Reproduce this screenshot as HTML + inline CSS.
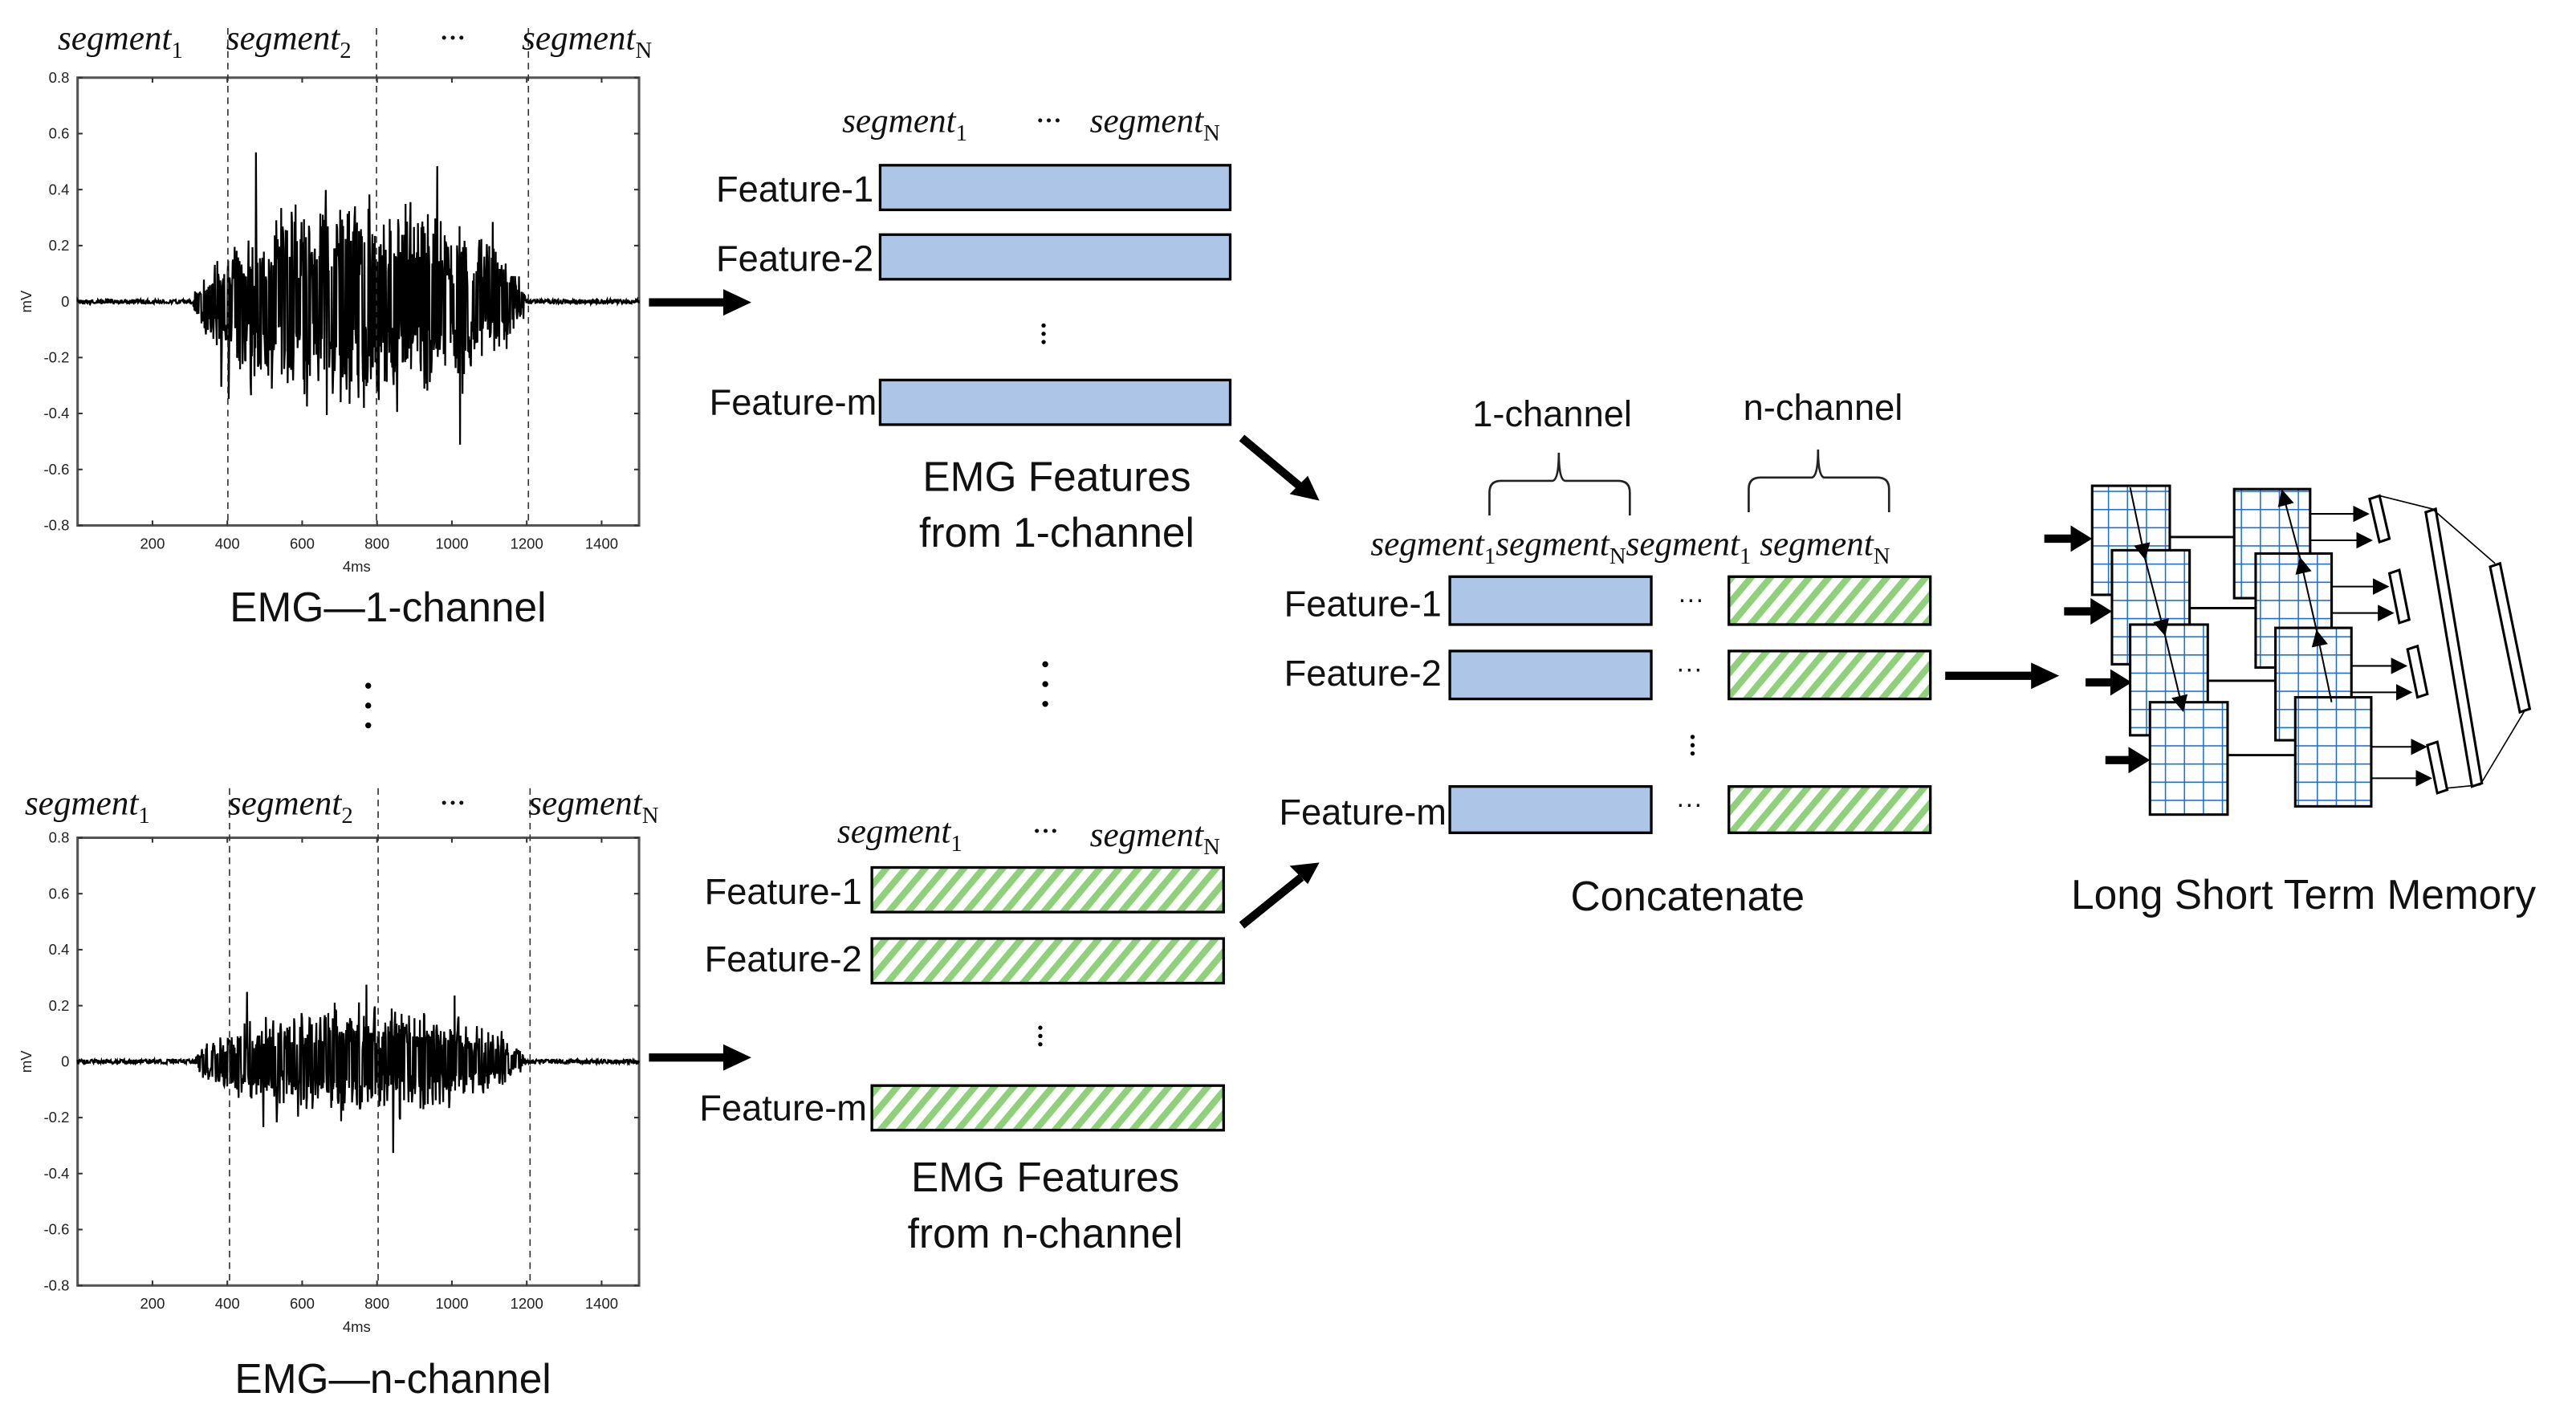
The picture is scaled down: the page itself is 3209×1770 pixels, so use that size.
<!DOCTYPE html>
<html><head><meta charset="utf-8"><style>
html,body{margin:0;padding:0;background:#fff;width:3209px;height:1770px;overflow:hidden}
svg{display:block}
.lab{font-family:"Liberation Sans","Noto Sans CJK KR",sans-serif;font-size:22px;fill:#111}
.big{font-family:"Liberation Sans","Noto Sans CJK KR",sans-serif;font-size:25px;fill:#111}
.seg{font-family:"Liberation Serif",serif;font-style:italic;font-size:21px;fill:#111}
.sub{font-size:14px;font-style:normal}
.tk{font-family:"Liberation Sans",sans-serif;font-size:9px;fill:#222}
</style></head><body>
<svg id="s" width="3209" height="1770" viewBox="0 0 1560 860" preserveAspectRatio="none" xmlns="http://www.w3.org/2000/svg">
<defs>
<pattern id="hatch" width="9" height="9" patternUnits="userSpaceOnUse" patternTransform="rotate(40)">
<rect width="9" height="9" fill="#fff"/><rect width="4" height="9" fill="#8fd07a"/></pattern>
<pattern id="grid" width="11.5" height="11" patternUnits="userSpaceOnUse">
<rect width="11.5" height="11" fill="#fff"/><path d="M0 0H11.5M0 0V11" stroke="#1a6fd0" stroke-width="1.5"/></pattern>
<marker id="ahs" viewBox="0 0 10 10" refX="9" refY="5" markerWidth="10" markerHeight="10" markerUnits="userSpaceOnUse" orient="auto"><path d="M0 0L10 5L0 10z" fill="#000"/></marker>
</defs>
<g id="plots"></g>

<text class="seg" x="35" y="30">segment<tspan class="sub" dy="5">1</tspan></text>
<text class="seg" x="137" y="30">segment<tspan class="sub" dy="5">2</tspan></text>
<text class="seg" x="266" y="30">···</text>
<text class="seg" x="316" y="30">segment<tspan class="sub" dy="5">N</tspan></text>
<text class="big" x="235" y="376" text-anchor="middle">EMG—1-channel</text>
<text class="seg" x="15" y="493">segment<tspan class="sub" dy="5">1</tspan></text>
<text class="seg" x="138" y="493">segment<tspan class="sub" dy="5">2</tspan></text>
<text class="seg" x="266" y="493">···</text>
<text class="seg" x="320" y="493">segment<tspan class="sub" dy="5">N</tspan></text>
<text class="big" x="238" y="843" text-anchor="middle">EMG—n-channel</text>
<g fill="#000"><circle cx="223" cy="415" r="1.8"/><circle cx="223" cy="427" r="1.8"/><circle cx="223" cy="439" r="1.8"/>
<circle cx="633" cy="402" r="1.8"/><circle cx="633" cy="414" r="1.8"/><circle cx="633" cy="426" r="1.8"/></g>

<g stroke="#000" stroke-width="5">
<line x1="393" y1="183" x2="440" y2="183"/><line x1="393" y1="640" x2="440" y2="640"/>
<line x1="752" y1="265" x2="788" y2="295"/><line x1="752" y1="560" x2="788" y2="531"/>
<line x1="1178" y1="409" x2="1232" y2="409"/>
</g>
<g fill="#000">
<path d="M438 175L455 183L438 191z"/><path d="M438 632L455 640L438 648z"/>
<path d="M799 303L781 299L792 288z"/><path d="M799 522L792 535L781 524z"/>
<path d="M1230 401L1247 409L1230 417z"/>
</g>

<text class="seg" x="510" y="80">segment<tspan class="sub" dy="5">1</tspan></text>
<text class="seg" x="627" y="80">···</text>
<text class="seg" x="660" y="80">segment<tspan class="sub" dy="5">N</tspan></text>
<g fill="#adc6e8" stroke="#000" stroke-width="1.6">
<rect x="533" y="100" width="212" height="27"/><rect x="533" y="142" width="212" height="27"/><rect x="533" y="230" width="212" height="27"/></g>
<text class="lab" x="529" y="122" text-anchor="end">Feature-1</text>
<text class="lab" x="529" y="164" text-anchor="end">Feature-2</text>
<text class="lab" x="531" y="251" text-anchor="end">Feature-m</text>
<g fill="#000"><circle cx="632" cy="197" r="1.3"/><circle cx="632" cy="202" r="1.3"/><circle cx="632" cy="207" r="1.3"/></g>
<text class="big" x="640" y="297" text-anchor="middle">EMG Features</text>
<text class="big" x="640" y="331" text-anchor="middle">from 1-channel</text>

<text class="seg" x="507" y="510">segment<tspan class="sub" dy="5">1</tspan></text>
<text class="seg" x="625" y="510">···</text>
<text class="seg" x="660" y="512">segment<tspan class="sub" dy="5">N</tspan></text>
<g fill="url(#hatch)" stroke="#000" stroke-width="1.6">
<rect x="528" y="525" width="213" height="27"/><rect x="528" y="568" width="213" height="27"/><rect x="528" y="657" width="213" height="27"/></g>
<text class="lab" x="522" y="547" text-anchor="end">Feature-1</text>
<text class="lab" x="522" y="588" text-anchor="end">Feature-2</text>
<text class="lab" x="525" y="678" text-anchor="end">Feature-m</text>
<g fill="#000"><circle cx="630" cy="622" r="1.3"/><circle cx="630" cy="627" r="1.3"/><circle cx="630" cy="632" r="1.3"/></g>
<text class="big" x="633" y="721" text-anchor="middle">EMG Features</text>
<text class="big" x="633" y="755" text-anchor="middle">from n-channel</text>

<text class="lab" x="940" y="258" text-anchor="middle">1-channel</text>
<text class="lab" x="1104" y="254" text-anchor="middle">n-channel</text>
<g fill="none" stroke="#222" stroke-width="1.3">
<path d="M902 312V298Q902 291 909 291H940Q944 291 944 274Q944 291 948 291H980Q987 291 987 298V312"/>
<path d="M1059 310V296Q1059 289 1066 289H1097Q1101 289 1101 272Q1101 289 1105 289H1137Q1144 289 1144 296V310"/>
</g>
<text class="seg" x="830" y="336">segment<tspan class="sub" dy="5">1</tspan><tspan dy="-5">segment</tspan><tspan class="sub" dy="5">N</tspan><tspan dy="-5">segment</tspan><tspan class="sub" dy="5">1</tspan><tspan dy="-5"> segment</tspan><tspan class="sub" dy="5">N</tspan></text>
<g fill="#adc6e8" stroke="#000" stroke-width="1.6">
<rect x="878" y="349" width="122" height="29"/><rect x="878" y="394" width="122" height="29"/><rect x="878" y="476" width="122" height="28"/></g>
<g fill="url(#hatch)" stroke="#000" stroke-width="1.6">
<rect x="1047" y="349" width="122" height="29"/><rect x="1047" y="394" width="122" height="29"/><rect x="1047" y="476" width="122" height="28"/></g>
<text class="lab" x="873" y="373" text-anchor="end">Feature-1</text>
<text class="lab" x="873" y="415" text-anchor="end">Feature-2</text>
<text class="lab" x="876" y="499" text-anchor="end">Feature-m</text>
<g font-family="Liberation Sans" font-size="16" fill="#111" text-anchor="middle">
<text x="1024" y="368">···</text><text x="1023" y="410">···</text><text x="1023" y="492">···</text></g>
<g fill="#000"><circle cx="1025" cy="446" r="1.3"/><circle cx="1025" cy="451" r="1.3"/><circle cx="1025" cy="456" r="1.3"/></g>
<text class="big" x="1022" y="551" text-anchor="middle">Concatenate</text>

<g stroke="#000" stroke-width="5">
<line x1="1238" y1="326" x2="1255" y2="326"/><line x1="1250" y1="370" x2="1267" y2="370"/>
<line x1="1263" y1="413" x2="1280" y2="413"/><line x1="1275" y1="460" x2="1290" y2="460"/></g>
<g fill="#000">
<path d="M1254 318L1267 326L1254 334z"/><path d="M1266 362L1279 370L1266 378z"/>
<path d="M1278 405L1291 413L1278 421z"/><path d="M1289 452L1302 460L1289 468z"/></g>
<g stroke="#000" stroke-width="1.4">
<line x1="1313" y1="325" x2="1353" y2="325"/><line x1="1326" y1="368" x2="1366" y2="368"/>
<line x1="1337" y1="412" x2="1378" y2="412"/><line x1="1349" y1="457" x2="1390" y2="457"/></g>
<g fill="url(#grid)" stroke="#000" stroke-width="1.5">
<rect x="1267" y="294" width="47" height="66"/><rect x="1279" y="333" width="47" height="69"/>
<rect x="1290" y="378" width="47" height="67"/><rect x="1302" y="425" width="47" height="68"/>
<rect x="1353" y="296" width="46" height="66"/><rect x="1366" y="335" width="46" height="69"/>
<rect x="1378" y="380" width="46" height="68"/><rect x="1390" y="422" width="46" height="66"/></g>
<g stroke="#000" stroke-width="1" marker-end="url(#ahs)">
<line x1="1290" y1="295" x2="1299" y2="338"/><line x1="1299" y1="338" x2="1311" y2="384"/><line x1="1311" y1="384" x2="1322" y2="430"/>
<line x1="1412" y1="425" x2="1403" y2="382"/><line x1="1403" y1="382" x2="1393" y2="338"/><line x1="1393" y1="338" x2="1382" y2="297"/>
<line x1="1399" y1="311" x2="1434" y2="311"/><line x1="1399" y1="327" x2="1436" y2="327"/>
<line x1="1412" y1="355" x2="1446" y2="355"/><line x1="1412" y1="371" x2="1449" y2="371"/>
<line x1="1424" y1="403" x2="1457" y2="403"/><line x1="1424" y1="419" x2="1460" y2="419"/>
<line x1="1436" y1="452" x2="1469" y2="452"/><line x1="1436" y1="471" x2="1472" y2="471"/></g>
<g fill="#fff" stroke="#000" stroke-width="1.5">
<path d="M1435 302L1441 300L1447 326L1441 328z"/>
<path d="M1447 347L1453 345L1459 375L1453 377z"/>
<path d="M1458 393L1464 391L1470 420L1464 422z"/>
<path d="M1470 451L1476 449L1482 478L1476 480z"/>
<path d="M1469 310L1475 308L1503 474L1497 476z"/>
<path d="M1508 343L1514 341L1532 429L1526 431z"/></g>
<g stroke="#000" stroke-width="0.8" fill="none">
<path d="M1441 300L1473 308L1511 341M1529 430L1502 475L1482 477"/></g>
<text class="big" x="1395" y="550" text-anchor="middle">Long Short Term Memory</text>
</svg>
<script>
(function(){
var NS="http://www.w3.org/2000/svg",g=document.getElementById("plots");
function el(n,a,t){var e=document.createElementNS(NS,n);for(var k in a)e.setAttribute(k,a[k]);if(t)e.textContent=t;g.appendChild(e);return e;}
var seed=7;function r(){seed=(seed*16807)%2147483647;return seed/2147483647;}
function plot(top,amp,dash){
 var L=47,R=387,T=top,B=top+271,Z=(T+B)/2;
 el("rect",{x:L,y:T,width:R-L,height:B-T,fill:"#fff",stroke:"#555","stroke-width":1.5});
 for(var i=0;i<=8;i++){var y=T+i*(B-T)/8;var v=(0.8-i*0.2).toFixed(1);if(v=="0.0"||v=="-0.0")v="0";
  el("text",{x:L-5,y:y+3,"text-anchor":"end","class":"tk"},v);
  el("line",{x1:L,y1:y,x2:L+3,y2:y,stroke:"#333"});el("line",{x1:R,y1:y,x2:R-3,y2:y,stroke:"#333"});}
 for(var x=200;x<=1400;x+=200){var px=L+(R-L)*x/1500;el("text",{x:px,y:B+14,"text-anchor":"middle","class":"tk"},x);
  el("line",{x1:px,y1:B,x2:px,y2:B-3,stroke:"#333"});el("line",{x1:px,y1:T,x2:px,y2:T+3,stroke:"#333"});}
 el("text",{x:216,y:B+28,"text-anchor":"middle","class":"tk"},"4ms");
 el("text",{x:15,y:Z+4,"text-anchor":"middle","class":"tk",transform:"rotate(-90 15 "+(Z)+")"},"mV");
 var d="M"+L+" "+Z;
 for(var px=L;px<=R;px+=0.3){
  var a=1.2;
  if(px>117&&px<318){var u=(px-117)/201;a=amp*Math.pow(Math.sin(Math.PI*u),0.5)*(0.4+0.6*r());if(r()<0.04)a*=1.9;}
  var s=(r()<0.5?-1:1);d+="L"+px.toFixed(1)+" "+(Z+s*a*(0.35+0.65*r())).toFixed(1);}
 el("path",{d:d,fill:"none",stroke:"#000","stroke-width":1.1});
 dash.forEach(function(x){el("line",{x1:x,y1:T-30,x2:x,y2:B,stroke:"#333","stroke-width":0.8,"stroke-dasharray":"4,3"});});
}
plot(47,72,[138,228,320]);
plot(507,38,[139,229,321]);
})();
</script>
</body></html>
